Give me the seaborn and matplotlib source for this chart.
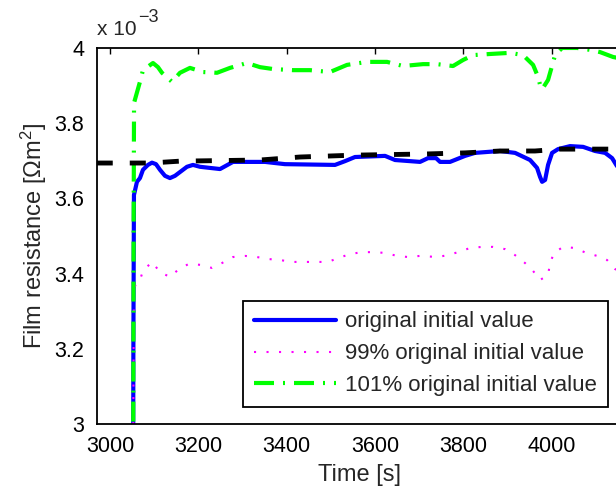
import matplotlib
matplotlib.use("Agg")
import matplotlib.pyplot as plt
import pandas as pd
import seaborn as sns
from matplotlib.ticker import FuncFormatter, MultipleLocator

# Film resistance estimates (units of 1e-3 Ohm m^2) versus time [s]
time_orig = [3052.5, 3053.0, 3054.3, 3061.1, 3067.9, 3074.7, 3086.0, 3095.1, 3104.2,
             3113.2, 3124.5, 3135.8, 3147.2, 3158.5, 3174.3, 3187.9, 3203.8, 3226.4,
             3249.1, 3278.5, 3350.9, 3396.2, 3509.4, 3532.1, 3554.7, 3622.7, 3645.3,
             3701.9, 3720.0, 3738.1, 3747.2, 3769.8, 3803.8, 3826.4, 3883.0, 3917.0,
             3951.0, 3966.8, 3973.6, 3978.2, 3985.0, 3991.7, 4000.8, 4014.4, 4041.5,
             4071.0, 4098.1, 4120.8, 4136.7, 4150.2, 4165.0]
res_orig = [2.90, 3.20, 3.609, 3.644, 3.654, 3.676, 3.689, 3.695, 3.691,
            3.676, 3.660, 3.654, 3.660, 3.670, 3.684, 3.689, 3.684, 3.681,
            3.678, 3.697, 3.697, 3.691, 3.689, 3.699, 3.710, 3.713, 3.702,
            3.697, 3.707, 3.707, 3.697, 3.697, 3.713, 3.721, 3.726, 3.721,
            3.702, 3.681, 3.657, 3.644, 3.649, 3.689, 3.721, 3.731, 3.739,
            3.737, 3.726, 3.721, 3.707, 3.681, 3.660]

time_99 = [3052.5, 3053.5, 3054.3, 3058.9, 3067.9, 3074.7, 3095.1, 3113.2, 3135.8,
           3156.2, 3178.9, 3206.0, 3230.9, 3253.6, 3278.5, 3305.7, 3332.8, 3355.5,
           3384.9, 3412.1, 3464.2, 3493.6, 3516.2, 3543.4, 3570.6, 3595.5, 3622.7,
           3649.8, 3674.7, 3701.9, 3740.4, 3765.3, 3787.9, 3815.1, 3842.3, 3867.2,
           3894.4, 3917.0, 3939.6, 3957.8, 3973.6, 3991.7, 3996.2, 4005.3, 4025.7,
           4052.9, 4077.8, 4102.7, 4125.3, 4143.5, 4165.0]
res_99 = [2.90, 3.20, 3.356, 3.375, 3.383, 3.407, 3.431, 3.404, 3.391,
          3.412, 3.426, 3.423, 3.415, 3.428, 3.444, 3.447, 3.444, 3.439,
          3.436, 3.431, 3.431, 3.431, 3.441, 3.452, 3.457, 3.457, 3.455,
          3.447, 3.444, 3.447, 3.444, 3.449, 3.457, 3.468, 3.471, 3.471,
          3.465, 3.449, 3.428, 3.407, 3.383, 3.396, 3.428, 3.455, 3.471,
          3.468, 3.455, 3.447, 3.436, 3.412, 3.400]

time_101 = [3052.5, 3053.5, 3054.5, 3067.9, 3074.7, 3097.4, 3108.7, 3117.7, 3140.4,
            3158.5, 3181.1, 3210.6, 3242.3, 3271.7, 3310.2, 3339.6, 3369.1, 3414.3,
            3452.8, 3498.1, 3536.6, 3581.9, 3627.2, 3663.4, 3708.7, 3740.4, 3776.6,
            3799.3, 3821.9, 3860.4, 3905.7, 3935.1, 3957.8, 3969.1, 3975.9, 3980.4,
            3991.7, 4007.6, 4023.4, 4057.4, 4086.8, 4109.5, 4138.9, 4165.0]
res_101 = [2.90, 3.50, 3.854, 3.910, 3.941, 3.960, 3.949, 3.934, 3.910,
           3.934, 3.947, 3.936, 3.934, 3.947, 3.960, 3.949, 3.944, 3.941,
           3.941, 3.936, 3.955, 3.963, 3.963, 3.952, 3.957, 3.957, 3.952,
           3.968, 3.981, 3.984, 3.987, 3.981, 3.955, 3.923, 3.891, 3.894,
           3.915, 3.981, 4.000, 4.000, 3.995, 3.989, 3.976, 3.970]

time_ref = [2970.0, 3091.0, 3158.5, 3339.6, 3430.0, 3554.7, 3713.0, 3803.8, 3883.0,
            3962.0, 4019.0, 4165.0]
res_ref = [3.694, 3.694, 3.699, 3.702, 3.710, 3.715, 3.718, 3.721, 3.726,
           3.726, 3.731, 3.731]

legend_labels = ["original initial value", "99% original initial value",
                 "101% original initial value"]

sns.set_theme(style="white")
plt.rcParams.update({
    "font.family": ["Liberation Sans", "DejaVu Sans"],
    "mathtext.fontset": "custom",
    "mathtext.rm": "Liberation Sans",
    "mathtext.it": "Liberation Sans:italic",
    "mathtext.bf": "Liberation Sans:bold",
    "axes.edgecolor": "black",
    "axes.linewidth": 1.3,
})

fig = plt.figure(figsize=(6.16, 4.93), dpi=100)
ax = fig.add_axes([0.157, 0.14, 0.8534, 0.7627])

df_orig = pd.DataFrame({"t": time_orig, "r": res_orig})
df_99 = pd.DataFrame({"t": time_99, "r": res_99})
df_101 = pd.DataFrame({"t": time_101, "r": res_101})
df_ref = pd.DataFrame({"t": time_ref, "r": res_ref})

sns.lineplot(data=df_orig, x="t", y="r", ax=ax, color=(0, 0, 1), lw=3.0,
             estimator=None, sort=False, label=legend_labels[0])
sns.lineplot(data=df_99, x="t", y="r", ax=ax, color=(1, 0, 1), lw=1.5,
             linestyle=(0, (1.0, 5.0)), estimator=None, sort=False,
             label=legend_labels[1])
sns.lineplot(data=df_101, x="t", y="r", ax=ax, color=(0, 1, 0), lw=3.0,
             linestyle=(0, (4.8, 2.16, 0.48, 2.16)), estimator=None, sort=False,
             label=legend_labels[2])
sns.lineplot(data=df_ref, x="t", y="r", ax=ax, color="black", lw=3.5,
             linestyle=(0, (3.3, 3.5)), estimator=None, sort=False)

ax.set_xlim(2970, 4160)
ax.set_ylim(3.0, 4.0)
ax.xaxis.set_major_locator(MultipleLocator(200))
ax.yaxis.set_major_locator(MultipleLocator(0.2))
ax.yaxis.set_major_formatter(FuncFormatter(lambda v, p: f"{v:g}"))
ax.tick_params(direction="in", length=4, width=1.0, top=True, right=True,
               labelsize=15.5, colors="black", pad=9)
for s in ax.spines.values():
    s.set_visible(True)
    s.set_color("black")

ax.set_xlabel("Time [s]", fontsize=17, labelpad=5)
ax.set_ylabel("Film resistance [Ωm$^2$]", fontsize=17, labelpad=4)

# exponent label above the y axis
fig.text(97 / 616, 1 - 35 / 493, "x 10", fontsize=15, ha="left", va="baseline")
fig.text(138 / 616, 1 - 22 / 493, "\u22123", fontsize=13, ha="left", va="baseline")

leg = ax.legend(loc="lower left", bbox_to_anchor=(0.278, 0.045),
                borderaxespad=0, fontsize=16, frameon=True, fancybox=False,
                edgecolor="black", framealpha=1, handlelength=3.7,
                handletextpad=0.4, labelspacing=0.49, borderpad=0.49)
leg.get_frame().set_linewidth(1.3)

fig.savefig("out.png", dpi=100)
